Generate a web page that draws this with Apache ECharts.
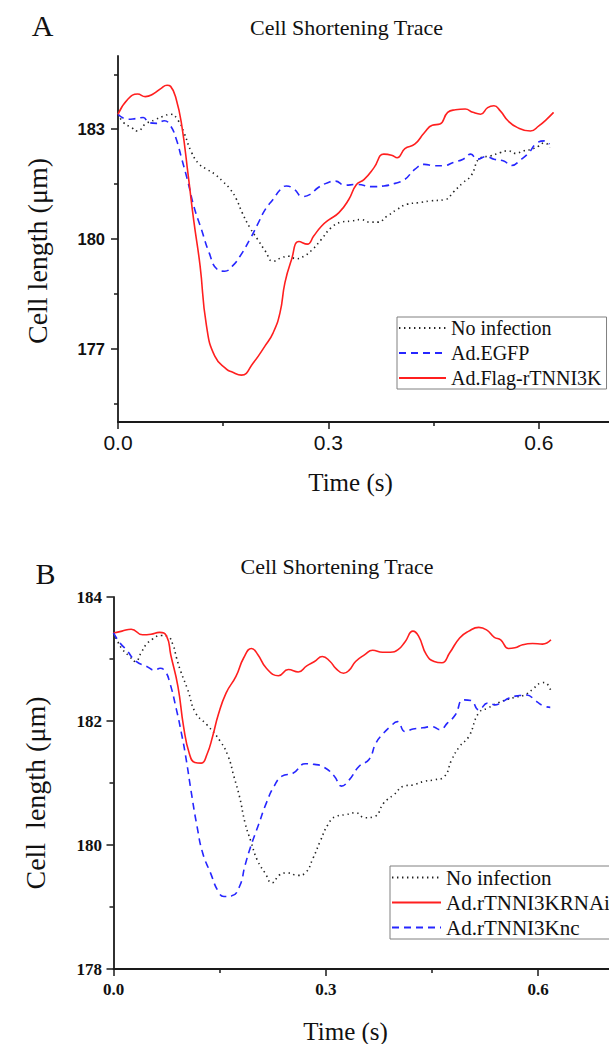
<!DOCTYPE html>
<html>
<head>
<meta charset="utf-8">
<script src="https://cdn.jsdelivr.net/npm/echarts@6/dist/echarts.min.js"></script>
<style>html,body{margin:0;padding:0;background:#fff}#c{width:609px;height:1044px}</style>
</head>
<body>
<div id="c"></div>
<script>
// ---------- Panel A data: [time (s), cell length (um)] ----------
const aNoInfection = [[0,183.41],[0.008,183.18],[0.019,183.05],[0.028,182.95],[0.039,183.14],[0.053,183.26],[0.064,183.35],[0.075,183.41],[0.086,183.23],[0.094,182.91],[0.105,182.36],[0.116,182.04],[0.127,181.9],[0.138,181.77],[0.149,181.58],[0.16,181.36],[0.169,181.08],[0.177,180.72],[0.188,180.31],[0.199,179.99],[0.21,179.67],[0.221,179.39],[0.232,179.48],[0.243,179.53],[0.254,179.46],[0.265,179.53],[0.276,179.69],[0.29,179.99],[0.304,180.31],[0.318,180.46],[0.332,180.49],[0.346,180.53],[0.359,180.46],[0.37,180.46],[0.384,180.63],[0.398,180.81],[0.412,180.95],[0.428,180.99],[0.445,181.04],[0.467,181.08],[0.478,181.28],[0.492,181.54],[0.503,181.72],[0.517,182.22],[0.531,182.27],[0.545,182.36],[0.556,182.41],[0.567,182.34],[0.578,182.41],[0.589,182.45],[0.6,182.54],[0.608,182.63],[0.616,182.5]];
const aEGFP = [[0,183.41],[0.014,183.27],[0.025,183.29],[0.036,183.32],[0.044,183.18],[0.055,183.16],[0.066,183.23],[0.075,183.09],[0.083,182.73],[0.091,182.18],[0.1,181.54],[0.108,180.9],[0.119,180.26],[0.13,179.62],[0.141,179.18],[0.152,179.12],[0.163,179.26],[0.174,179.53],[0.188,179.99],[0.199,180.4],[0.21,180.81],[0.221,181.08],[0.232,181.36],[0.24,181.45],[0.251,181.36],[0.263,181.16],[0.274,181.22],[0.285,181.4],[0.299,181.54],[0.31,181.58],[0.323,181.47],[0.34,181.49],[0.362,181.43],[0.379,181.45],[0.395,181.52],[0.409,181.63],[0.423,181.9],[0.437,182.04],[0.451,182.0],[0.464,182.0],[0.478,182.09],[0.492,182.18],[0.503,182.32],[0.512,182.18],[0.525,182.25],[0.536,182.18],[0.55,182.13],[0.561,182.01],[0.575,182.18],[0.586,182.36],[0.597,182.62],[0.608,182.68],[0.615,182.59]];
const aFlagTNNI3K = [[0,183.41],[0.014,183.82],[0.028,183.96],[0.039,183.89],[0.05,183.96],[0.061,184.11],[0.07,184.2],[0.075,184.17],[0.083,183.82],[0.091,183.09],[0.1,181.75],[0.108,180.5],[0.117,179.27],[0.126,177.65],[0.138,176.8],[0.155,176.44],[0.162,176.37],[0.176,176.28],[0.193,176.62],[0.209,177.06],[0.221,177.43],[0.231,177.99],[0.238,178.81],[0.247,179.41],[0.258,179.93],[0.27,179.86],[0.279,180.08],[0.29,180.35],[0.301,180.53],[0.315,180.72],[0.329,181.08],[0.34,181.49],[0.351,181.63],[0.365,181.95],[0.379,182.32],[0.39,182.29],[0.398,182.22],[0.409,182.47],[0.423,182.59],[0.437,182.91],[0.448,183.11],[0.459,183.14],[0.47,183.46],[0.481,183.53],[0.495,183.55],[0.506,183.46],[0.517,183.41],[0.527,183.59],[0.536,183.64],[0.545,183.5],[0.556,183.23],[0.569,183.05],[0.588,182.95],[0.6,183.09],[0.611,183.27],[0.621,183.46]];

// ---------- Panel B data ----------
const bNoInfection = [[0,183.42],[0.006,183.28],[0.013,183.15],[0.022,183.05],[0.031,182.96],[0.039,183.1],[0.046,183.23],[0.055,183.32],[0.067,183.38],[0.077,183.36],[0.084,183.23],[0.089,183.02],[0.095,182.8],[0.105,182.5],[0.116,182.13],[0.132,181.94],[0.151,181.67],[0.162,181.43],[0.17,181.11],[0.178,180.78],[0.186,180.35],[0.194,180.06],[0.203,179.76],[0.214,179.55],[0.224,179.39],[0.235,179.52],[0.246,179.55],[0.26,179.51],[0.271,179.55],[0.282,179.79],[0.292,180.06],[0.303,180.33],[0.314,180.46],[0.328,180.49],[0.342,180.52],[0.355,180.44],[0.369,180.46],[0.382,180.68],[0.396,180.81],[0.41,180.95],[0.423,180.97],[0.44,181.03],[0.453,181.05],[0.467,181.1],[0.478,181.38],[0.489,181.59],[0.502,181.75],[0.516,182.13],[0.529,182.21],[0.543,182.29],[0.557,182.35],[0.57,182.39],[0.581,182.42],[0.592,182.51],[0.603,182.61],[0.609,182.62],[0.618,182.48]];
const bTNNI3KRNAi = [[0,183.42],[0.012,183.45],[0.025,183.48],[0.041,183.39],[0.053,183.4],[0.065,183.43],[0.075,183.37],[0.081,183.06],[0.091,182.56],[0.099,181.91],[0.107,181.48],[0.115,181.33],[0.124,181.32],[0.132,181.46],[0.14,181.75],[0.148,182.1],[0.159,182.45],[0.173,182.72],[0.184,183.02],[0.195,183.17],[0.204,183.07],[0.216,182.85],[0.233,182.73],[0.247,182.83],[0.261,182.79],[0.273,182.89],[0.284,182.96],[0.295,183.04],[0.306,182.96],[0.314,182.85],[0.325,182.77],[0.333,182.82],[0.342,182.96],[0.355,183.07],[0.366,183.14],[0.38,183.11],[0.391,183.11],[0.402,183.15],[0.412,183.28],[0.423,183.45],[0.431,183.37],[0.442,183.07],[0.453,182.96],[0.464,182.94],[0.475,183.1],[0.489,183.34],[0.502,183.45],[0.516,183.51],[0.527,183.47],[0.538,183.35],[0.547,183.31],[0.558,183.17],[0.567,183.18],[0.578,183.23],[0.592,183.25],[0.606,183.24],[0.618,183.31]];
const bTNNI3Knc = [[0,183.42],[0.009,183.26],[0.018,183.15],[0.032,182.96],[0.047,182.88],[0.058,182.82],[0.066,182.85],[0.073,182.8],[0.079,182.64],[0.089,182.18],[0.096,181.8],[0.102,181.43],[0.11,180.84],[0.118,180.3],[0.126,179.87],[0.137,179.55],[0.148,179.25],[0.156,179.17],[0.167,179.18],[0.178,179.33],[0.186,179.68],[0.194,179.98],[0.205,180.33],[0.216,180.68],[0.227,180.95],[0.238,181.11],[0.254,181.16],[0.271,181.31],[0.284,181.3],[0.298,181.25],[0.312,181.11],[0.322,180.95],[0.333,181.05],[0.347,181.27],[0.361,181.38],[0.371,181.65],[0.382,181.81],[0.391,181.91],[0.401,181.99],[0.412,181.83],[0.423,181.87],[0.437,181.89],[0.45,181.91],[0.461,181.86],[0.472,181.97],[0.483,182.1],[0.494,182.34],[0.505,182.33],[0.516,182.18],[0.529,182.29],[0.54,182.26],[0.548,182.3],[0.559,182.37],[0.573,182.41],[0.584,182.42],[0.595,182.34],[0.606,182.25],[0.617,182.22]];

// ---------- Tick / label values ----------
const xMajorTicks = [0, 0.3, 0.6];
const xMinorTicks = [0.15, 0.45];
const aYLabels = [177, 180, 183];
const aYMinorTicks = [175.5, 178.5, 181.5, 184.5];
const bYLabels = [178, 180, 182, 184];
const bYMinorTicks = [179, 181, 183];

const serif = "'Liberation Serif','Times New Roman',serif";
const sans = "'Liberation Sans',Arial,sans-serif";
const AX = '#1a1a1a';
const RED = '#ff1f1f', BLUE = '#2626ff', BLK = '#222222';

function xAx(grid, major, labelFont, labelWeight, labelSize, margin) {
  return [
    {gridIndex:grid, type:'value', position:'bottom', min:0, max:0.7,
     axisLine:{onZero:false, lineStyle:{color:AX, width:1.8}}, splitLine:{show:false},
     axisTick:{customValues:major, length:7, lineStyle:{color:AX, width:1.5}},
     axisLabel:{customValues:major, formatter:v=>v.toFixed(1), fontFamily:labelFont, fontWeight:labelWeight, fontSize:labelSize, color:'#111', margin:margin}},
    {gridIndex:grid, type:'value', position:'bottom', min:0, max:0.7,
     axisLine:{show:false, onZero:false}, splitLine:{show:false},
     axisTick:{customValues:xMinorTicks, length:4, lineStyle:{color:AX, width:1.5}},
     axisLabel:{show:false}}
  ];
}
function yAx(grid, min, max, labels, minor, labelFont, labelSize, margin) {
  return [
    {gridIndex:grid, type:'value', position:'left', min:min, max:max,
     axisLine:{show:true, onZero:false, lineStyle:{color:AX, width:1.8}}, splitLine:{show:false},
     axisTick:{show:true, customValues:labels, length:7, lineStyle:{color:AX, width:1.5}},
     axisLabel:{customValues:labels, fontFamily:labelFont, fontWeight:'bold', fontSize:labelSize, color:'#111', margin:margin}},
    {gridIndex:grid, type:'value', position:'left', min:min, max:max,
     axisLine:{show:false, onZero:false}, splitLine:{show:false},
     axisTick:{show:true, customValues:minor, length:4, lineStyle:{color:AX, width:1.5}},
     axisLabel:{show:false}}
  ];
}
function line(name, data, xi, yi, color, type, width) {
  return {name:name, type:'line', xAxisIndex:xi, yAxisIndex:yi, data:data,
    smooth:0.5, symbol:'none', showSymbol:false, clip:true,
    lineStyle:{color:color, type:type, width:width}, itemStyle:{color:color}};
}
const DOT = [1.4, 3.6], DASH = [7, 5];

const txt = (t, x, y, size, rot) => ({type:'text', x:x, y:y, rotation:rot||0,
  style:{text:t, fontFamily:serif, fontSize:size, fill:'#111', align:'center', verticalAlign:'middle'}});

const legendHiddenSymbol = {color:'rgba(0,0,0,0)', borderWidth:0, opacity:0};

const chart = echarts.init(document.getElementById('c'), null, {renderer:'svg'});
chart.setOption({
  animation:false,
  backgroundColor:'#ffffff',
  grid:[{left:118, top:56, width:492, height:366},{left:113.5, top:597, width:499, height:372}],
  xAxis:[...xAx(0, xMajorTicks, sans, 'normal', 21, 10), ...xAx(1, xMajorTicks, serif, 'bold', 17, 12)],
  yAxis:[...yAx(0, 175, 185, aYLabels, aYMinorTicks, sans, 16.5, 13), ...yAx(1, 178, 184, bYLabels, bYMinorTicks, serif, 17, 11.5)],
  legend:[
    {left:397, top:317, orient:'vertical', data:['No infection','Ad.EGFP','Ad.Flag-rTNNI3K'],
     itemWidth:47, itemHeight:14, itemGap:5, padding:[1,5,1,1], borderColor:'#808080', borderWidth:1,
     itemStyle:legendHiddenSymbol,
     textStyle:{fontFamily:serif, fontSize:20, lineHeight:20, color:'#111'}},
    {left:390, top:866, orient:'vertical', data:['No infection','Ad.rTNNI3KRNAi','Ad.rTNNI3Knc'],
     itemWidth:49, itemHeight:14, itemGap:4, padding:[1,1,1,1], borderColor:'#808080', borderWidth:1,
     itemStyle:legendHiddenSymbol,
     textStyle:{fontFamily:serif, fontSize:21, lineHeight:21, color:'#111'}}
  ],
  graphic:[
    txt('A', 42.5, 25, 30),
    txt('Cell Shortening Trace', 346.5, 27, 22),
    txt('Cell length (\u03bcm)', 37.5, 251, 28, Math.PI/2),
    txt('Time (s)', 350.5, 482, 25),
    txt('B', 45.5, 573, 30),
    txt('Cell Shortening Trace', 337, 566, 22),
    txt('Cell  length (\u03bcm)', 35, 793, 28, Math.PI/2),
    txt('Time (s)', 345.6, 1031, 25)
  ],
  series:[
    line('No infection', aNoInfection, 0, 0, BLK, DOT, 1.6),
    line('Ad.EGFP', aEGFP, 0, 0, BLUE, DASH, 1.6),
    line('Ad.Flag-rTNNI3K', aFlagTNNI3K, 0, 0, RED, 'solid', 1.6),
    line('No infection', bNoInfection, 2, 2, BLK, DOT, 1.6),
    line('Ad.rTNNI3KRNAi', bTNNI3KRNAi, 2, 2, RED, 'solid', 1.6),
    line('Ad.rTNNI3Knc', bTNNI3Knc, 2, 2, BLUE, DASH, 1.6)
  ]
});
</script>
</body>
</html>
